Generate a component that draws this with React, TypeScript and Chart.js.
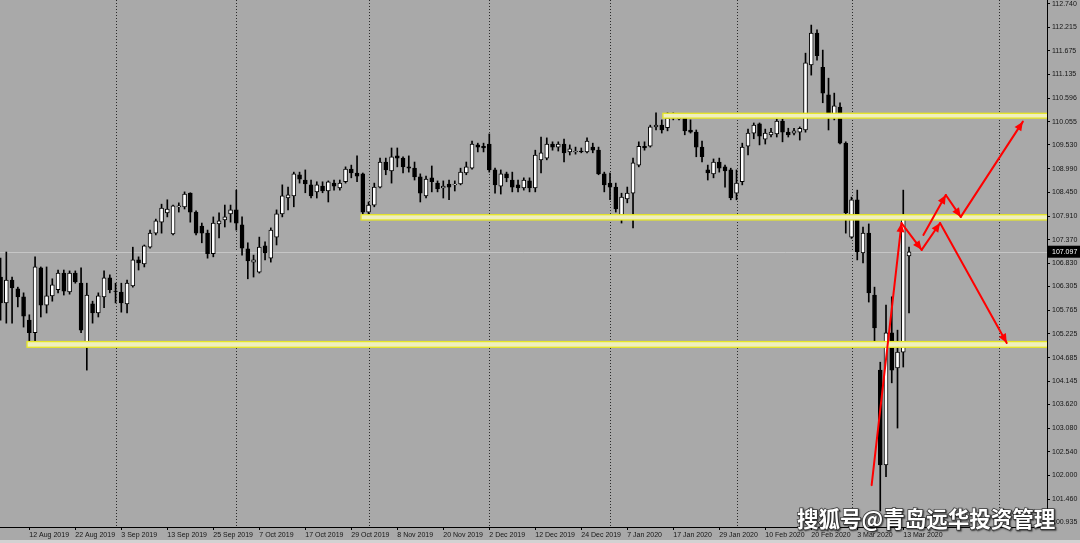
import React, { useEffect, useRef } from 'react';
import { Chart, registerables } from 'chart.js';

Chart.register(...registerables);

// Daily USD/JPY candles, 5 Aug 2019 .. 16 Mar 2020 (bar index 0 = 5 Aug 2019)
const opens = [
  106.52, 105.93, 106.45, 106.25, 106.07, 105.54, 105.25, 106.73, 105.88, 106.09,
  106.23, 106.61, 106.18, 106.61, 106.38, 104.93, 105.91, 105.70, 106.07, 106.50,
  106.20, 106.18, 105.91, 106.32, 106.91, 106.82, 107.20, 107.52, 107.77, 107.98,
  107.50, 108.12, 108.12, 108.43, 108.00, 107.68, 107.52, 107.05, 107.73, 107.82,
  107.96, 108.05, 107.71, 107.16, 106.86, 106.63, 107.23, 106.95, 107.43, 107.96,
  108.32, 108.37, 108.85, 108.73, 108.62, 108.46, 108.59, 108.48, 108.66, 108.55,
  108.69, 108.98, 108.89, 108.87, 108.00, 108.16, 108.57, 109.14, 108.94, 109.28,
  109.23, 109.03, 109.00, 108.80, 108.37, 108.78, 108.66, 108.55, 108.64, 108.62,
  108.64, 108.89, 109.00, 109.53, 109.50, 109.55, 108.96, 108.59, 108.87, 108.73,
  108.62, 108.55, 108.71, 108.55, 109.19, 109.23, 109.55, 109.48, 109.55, 109.37,
  109.37, 109.39, 109.37, 109.48, 109.41, 108.87, 108.66, 108.57, 107.84, 108.30,
  108.43, 109.07, 109.50, 109.50, 109.94, 109.98, 109.92, 110.14, 110.12, 110.14,
  109.87, 109.82, 109.48, 108.96, 108.87, 109.14, 109.03, 108.96, 108.43, 108.69,
  109.50, 109.80, 110.01, 109.66, 109.76, 109.78, 110.07, 109.82, 109.80, 109.82,
  109.87, 111.35, 112.08, 111.30, 110.67, 110.17, 110.39, 109.57, 107.43, 108.28,
  107.07, 107.52, 106.11, 104.40, 102.24, 105.25, 104.45, 104.81, 107.00,
];
const highs = [
  106.95, 107.09, 106.52, 106.29, 106.16, 105.66, 106.98, 106.75, 106.75, 106.48,
  106.68, 106.68, 106.66, 106.66, 106.73, 106.38, 105.97, 106.16, 106.66, 106.57,
  106.38, 106.38, 106.45, 107.20, 106.98, 107.25, 107.59, 107.84, 108.18, 108.28,
  108.16, 108.21, 108.46, 108.44, 108.03, 107.75, 107.59, 107.89, 107.98, 108.16,
  108.16, 108.50, 107.89, 107.30, 107.02, 107.43, 107.32, 107.64, 108.05, 108.62,
  108.57, 108.91, 108.91, 108.96, 108.73, 108.69, 108.69, 108.71, 108.73, 108.73,
  109.03, 109.07, 109.28, 108.89, 108.23, 108.66, 109.23, 109.23, 109.46, 109.46,
  109.26, 109.28, 109.14, 108.87, 108.82, 109.05, 108.71, 108.71, 108.73, 108.71,
  109.00, 109.14, 109.62, 109.57, 109.57, 109.78, 109.00, 108.96, 108.91, 108.91,
  108.73, 108.78, 108.78, 109.41, 109.71, 109.69, 109.60, 109.60, 109.66, 109.53,
  109.48, 109.46, 109.69, 109.57, 109.48, 108.91, 108.89, 108.66, 108.43, 108.57,
  109.23, 109.60, 109.60, 109.98, 110.26, 110.10, 110.26, 110.26, 110.23, 110.17,
  110.10, 109.87, 109.62, 109.07, 109.21, 109.23, 109.07, 109.00, 108.96, 109.57,
  109.89, 110.03, 110.03, 109.89, 109.91, 110.12, 110.12, 109.91, 109.91, 109.94,
  111.62, 112.26, 112.15, 111.69, 111.05, 110.71, 110.49, 109.60, 108.34, 108.50,
  107.66, 107.73, 106.29, 104.58, 105.88, 106.07, 105.31, 108.50, 107.20,
];
const lows = [
  105.54, 105.47, 105.47, 105.84, 105.38, 105.02, 105.02, 105.61, 105.70, 105.97,
  106.16, 106.11, 106.13, 106.38, 105.25, 104.40, 105.47, 105.61, 105.82, 106.16,
  105.93, 105.72, 105.70, 106.29, 106.68, 106.75, 107.18, 107.48, 107.52, 107.89,
  107.48, 108.00, 108.07, 107.77, 107.48, 107.30, 106.95, 106.98, 107.41, 107.66,
  107.77, 107.59, 107.02, 106.48, 106.52, 106.61, 106.91, 106.86, 107.25, 107.89,
  108.05, 108.12, 108.66, 108.44, 108.32, 108.32, 108.44, 108.23, 108.50, 108.50,
  108.66, 108.78, 108.69, 107.93, 107.93, 108.12, 108.55, 108.85, 108.66, 109.03,
  108.89, 108.91, 108.73, 108.23, 108.32, 108.46, 108.46, 108.32, 108.28, 108.48,
  108.62, 108.85, 108.98, 109.37, 109.37, 108.91, 108.43, 108.41, 108.69, 108.46,
  108.46, 108.50, 108.46, 108.46, 108.89, 109.19, 109.41, 109.39, 109.14, 109.30,
  109.32, 109.35, 109.35, 109.35, 108.85, 108.46, 108.28, 108.00, 107.75, 108.21,
  107.64, 109.03, 109.41, 109.48, 109.87, 109.80, 109.85, 110.10, 110.10, 109.76,
  109.80, 109.26, 109.14, 108.73, 108.78, 108.91, 108.57, 108.28, 108.28, 108.62,
  109.30, 109.67, 109.53, 109.55, 109.71, 109.71, 109.60, 109.71, 109.76, 109.64,
  109.82, 111.12, 111.46, 110.49, 109.87, 110.10, 109.55, 107.52, 107.40, 106.91,
  106.84, 105.95, 104.97, 101.19, 101.97, 104.11, 103.08, 104.47, 105.70,
];
const closes = [
  105.93, 106.45, 106.27, 106.07, 105.63, 105.25, 106.75, 105.88, 106.09, 106.34,
  106.61, 106.20, 106.61, 106.41, 105.31, 106.11, 105.70, 106.09, 106.50, 106.23,
  106.19, 105.93, 106.38, 106.91, 106.84, 107.23, 107.52, 107.80, 108.09, 108.07,
  108.14, 108.14, 108.41, 108.00, 107.52, 107.52, 107.05, 107.75, 107.80, 107.89,
  108.05, 107.75, 107.18, 106.89, 106.91, 107.20, 107.07, 107.59, 107.96, 108.37,
  108.39, 108.87, 108.75, 108.64, 108.37, 108.62, 108.48, 108.69, 108.59, 108.66,
  108.98, 108.89, 108.82, 108.00, 108.16, 108.57, 109.14, 108.96, 109.26, 109.23,
  109.03, 109.00, 108.80, 108.43, 108.75, 108.69, 108.53, 108.59, 108.57, 108.64,
  108.91, 109.03, 109.55, 109.48, 109.46, 108.96, 108.62, 108.87, 108.78, 108.57,
  108.55, 108.73, 108.55, 109.30, 109.35, 109.55, 109.48, 109.55, 109.35, 109.44,
  109.39, 109.37, 109.62, 109.41, 108.87, 108.62, 108.57, 108.07, 108.34, 108.43,
  109.12, 109.50, 109.46, 109.94, 109.98, 109.87, 110.14, 110.16, 110.16, 109.85,
  109.82, 109.48, 109.26, 108.89, 109.14, 109.00, 108.94, 108.32, 108.66, 109.48,
  109.80, 109.98, 109.73, 109.80, 109.82, 110.07, 109.82, 109.76, 109.85, 109.91,
  111.40, 112.08, 111.56, 110.71, 110.17, 110.42, 109.57, 107.98, 108.28, 107.09,
  107.52, 106.16, 105.36, 102.24, 105.25, 104.40, 104.81, 107.86, 107.097,
];

const yTickValues = [
  112.74, 112.215, 111.675, 111.135, 110.596, 110.055, 109.53, 108.99, 108.45, 107.91,
  107.37, 106.83, 106.305, 105.765, 105.225, 104.685, 104.145, 103.62, 103.08, 102.54,
  102.0, 101.46, 100.935,
];
const xTickIndex = [5, 13, 21, 29, 37, 45, 53, 61, 69, 77, 85, 93, 101, 109, 117, 125, 133, 141, 149, 157];
const xTickLabels = [
  '12 Aug 2019', '22 Aug 2019', '3 Sep 2019', '13 Sep 2019', '25 Sep 2019', '7 Oct 2019',
  '17 Oct 2019', '29 Oct 2019', '8 Nov 2019', '20 Nov 2019', '2 Dec 2019', '12 Dec 2019',
  '24 Dec 2019', '7 Jan 2020', '17 Jan 2020', '29 Jan 2020', '10 Feb 2020', '20 Feb 2020',
  '3 Mar 2020', '13 Mar 2020',
];
const monthStartIndex = [20, 41, 64, 85, 106, 128, 148, 173.6];

const bandStart = [4.6, 62.7, 115.2];
const bandTop = [105.05, 107.94, 110.25];
const bandBottom = [104.92, 107.82, 110.14];

const arrowPathAx = [151.5, 156.7, 160.2, 163.4, 175.0];
const arrowPathAy = [101.78, 107.75, 107.14, 107.75, 105.02];
const arrowPathBx = [160.5, 164.4, 167.0, 177.8];
const arrowPathBy = [107.48, 108.39, 107.89, 110.06];

const currentPrice = 107.097;
const watermark = '搜狐号@青岛远华投资管理';

const AXIS_FONT = { family: 'Liberation Sans', size: 7 };

function drawArrowSeg(ctx: CanvasRenderingContext2D, x1: number, y1: number, x2: number, y2: number) {
  ctx.beginPath();
  ctx.moveTo(x1, y1);
  ctx.lineTo(x2, y2);
  ctx.stroke();
  const a = Math.atan2(y2 - y1, x2 - x1);
  const len = 9;
  const w = 4;
  const bx = x2 - len * Math.cos(a);
  const by = y2 - len * Math.sin(a);
  ctx.beginPath();
  ctx.moveTo(x2, y2);
  ctx.lineTo(bx + w * Math.sin(a), by - w * Math.cos(a));
  ctx.lineTo(bx - w * Math.sin(a), by + w * Math.cos(a));
  ctx.closePath();
  ctx.fill();
}

export default function App() {
  const ref = useRef<HTMLCanvasElement>(null);

  useEffect(() => {
    const canvas = ref.current;
    if (!canvas) return;
    const idx = opens.map((_, i) => i);
    const up = opens.map((o, i) => closes[i] >= o);

    const overlay = {
      id: 'overlay',
      beforeDraw(chart: any) {
        const ctx = chart.ctx as CanvasRenderingContext2D;
        ctx.save();
        ctx.fillStyle = '#a9a9a9';
        ctx.fillRect(0, 0, chart.width, chart.height);
        ctx.fillStyle = '#d2d2d2';
        ctx.fillRect(0, 540, chart.width, 3);
        ctx.restore();
      },
      beforeDatasetsDraw(chart: any) {
        const ctx = chart.ctx as CanvasRenderingContext2D;
        const { left, right, top, bottom } = chart.chartArea;
        const xs = chart.scales.x;
        const ys = chart.scales.y;
        ctx.save();
        // monthly dotted grid
        ctx.strokeStyle = '#2a2a2a';
        ctx.lineWidth = 1;
        ctx.setLineDash([1, 2]);
        monthStartIndex.forEach((m) => {
          const x = Math.round(xs.getPixelForValue(m)) + 0.5;
          ctx.beginPath();
          ctx.moveTo(x, top);
          ctx.lineTo(x, bottom);
          ctx.stroke();
        });
        ctx.setLineDash([]);
        // current price line
        const py = Math.round(ys.getPixelForValue(currentPrice)) + 0.5;
        ctx.strokeStyle = '#c6c6c6';
        ctx.beginPath();
        ctx.moveTo(left, py);
        ctx.lineTo(right, py);
        ctx.stroke();
        ctx.restore();
      },
      afterDatasetsDraw(chart: any) {
        const ctx = chart.ctx as CanvasRenderingContext2D;
        const { left, right, top, bottom } = chart.chartArea;
        const xs = chart.scales.x;
        const ys = chart.scales.y;
        ctx.save();
        ctx.beginPath();
        ctx.rect(left, top, right - left, bottom - top);
        ctx.clip();
        // yellow support / resistance bands
        bandStart.forEach((s, i) => {
          const x0 = xs.getPixelForValue(s);
          const y0 = ys.getPixelForValue(bandTop[i]);
          const y1 = ys.getPixelForValue(bandBottom[i]);
          ctx.fillStyle = '#efefbf';
          ctx.fillRect(x0, y0, right - x0, y1 - y0);
          ctx.strokeStyle = '#e6e626';
          ctx.lineWidth = 1.3;
          ctx.strokeRect(x0, y0, right - x0 + 4, y1 - y0);
        });
        // red arrows
        ctx.strokeStyle = '#ff0000';
        ctx.fillStyle = '#ff0000';
        ctx.lineWidth = 2;
        ctx.lineCap = 'round';
        const paths = [
          [arrowPathAx, arrowPathAy],
          [arrowPathBx, arrowPathBy],
        ];
        paths.forEach(([px, pyv]) => {
          for (let i = 1; i < px.length; i++) {
            drawArrowSeg(
              ctx,
              xs.getPixelForValue(px[i - 1]),
              ys.getPixelForValue(pyv[i - 1]),
              xs.getPixelForValue(px[i]),
              ys.getPixelForValue(pyv[i]),
            );
          }
        });
        ctx.restore();
      },
      afterDraw(chart: any) {
        const ctx = chart.ctx as CanvasRenderingContext2D;
        const { right } = chart.chartArea;
        const ys = chart.scales.y;
        ctx.save();
        // current price tag
        const py = ys.getPixelForValue(currentPrice);
        ctx.fillStyle = '#000';
        ctx.fillRect(right + 1, py - 6, chart.width - right - 1, 12);
        ctx.fillStyle = '#fff';
        ctx.font = '7px "Liberation Sans"';
        ctx.textBaseline = 'middle';
        ctx.textAlign = 'left';
        ctx.fillText(currentPrice.toFixed(3), right + 5, py + 0.5);
        // watermark
        ctx.font = 'bold 21.5px "Noto Sans CJK SC"';
        ctx.textBaseline = 'middle';
        ctx.shadowColor = 'rgba(0,0,0,0.85)';
        ctx.shadowOffsetX = 1;
        ctx.shadowOffsetY = 1;
        ctx.shadowBlur = 1.5;
        ctx.lineWidth = 1.5;
        ctx.strokeStyle = 'rgba(30,30,30,0.8)';
        ctx.strokeText(watermark, 797, 519);
        ctx.shadowColor = 'transparent';
        ctx.fillStyle = '#ffffff';
        ctx.fillText(watermark, 797, 519);
        ctx.restore();
      },
    };

    const chart = new Chart(canvas, {
      type: 'bar',
      data: {
        datasets: [
          {
            label: 'wick',
            data: idx.map((i) => ({ x: i, y: [lows[i], highs[i]] })) as any,
            backgroundColor: '#000',
            borderWidth: 0,
            barThickness: 1,
            grouped: false,
            order: 2,
          } as any,
          {
            label: 'body',
            data: idx.map((i) => ({ x: i, y: [opens[i], closes[i]] })) as any,
            backgroundColor: up.map((u) => (u ? '#ffffff' : '#000000')),
            borderColor: '#000',
            borderWidth: 1,
            borderSkipped: false,
            barThickness: 4,
            grouped: false,
            order: 1,
          } as any,
        ],
      },
      options: {
        responsive: false,
        animation: false,
        devicePixelRatio: 1,
        layout: { padding: 0 },
        plugins: { legend: { display: false }, tooltip: { enabled: false } },
        scales: {
          x: {
            type: 'linear',
            position: 'bottom',
            min: -0.1,
            max: 182,
            offset: false,
            grid: { display: true, drawOnChartArea: false, drawTicks: true, tickLength: 3, color: '#000', offset: false },
            border: { display: true, color: '#000', width: 1 },
            ticks: {
              autoSkip: false,
              maxRotation: 0,
              minRotation: 0,
              align: 'start',
              padding: 1,
              color: '#151515',
              font: AXIS_FONT,
              callback: (_v: any, i: number) => xTickLabels[i] ?? '',
            },
            afterBuildTicks: (s: any) => {
              s.ticks = xTickIndex.map((v) => ({ value: v }));
            },
            afterFit: (s: any) => {
              s.height = 16;
              s.paddingLeft = 0;
              s.paddingRight = 0;
              s.paddingTop = 0;
              s.paddingBottom = 0;
            },
          } as any,
          y: {
            type: 'linear',
            position: 'right',
            min: 100.826,
            max: 112.831,
            beginAtZero: false,
            grid: { drawOnChartArea: false, drawTicks: true, tickLength: 3, color: '#000' },
            border: { display: true, color: '#000', width: 1 },
            ticks: {
              autoSkip: false,
              padding: 2,
              color: '#151515',
              font: AXIS_FONT,
              callback: (v: any) => Number(v).toFixed(3),
            },
            afterBuildTicks: (s: any) => {
              s.ticks = yTickValues.map((v) => ({ value: v }));
            },
            afterFit: (s: any) => {
              s.width = 33;
              s.paddingLeft = 0;
              s.paddingRight = 0;
              s.paddingTop = 0;
              s.paddingBottom = 0;
            },
          } as any,
        },
      } as any,
      plugins: [overlay as any],
    });

    return () => chart.destroy();
  }, []);

  return (
    <div style={{ position: 'fixed', left: 0, top: 0, width: 1080, height: 543, overflow: 'hidden', background: '#a9a9a9' }}>
      <canvas ref={ref} width={1080} height={543} style={{ display: 'block' }} />
    </div>
  );
}
